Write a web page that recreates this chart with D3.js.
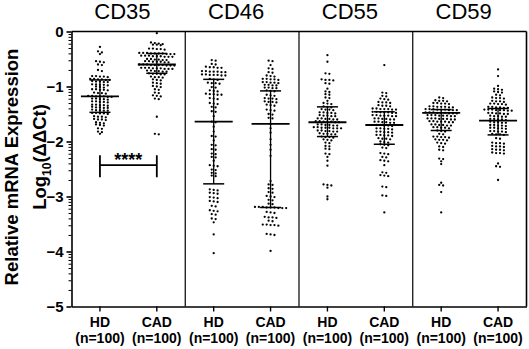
<!DOCTYPE html>
<html><head><meta charset="utf-8">
<script src="https://cdn.jsdelivr.net/npm/d3@7"></script>
<style>
body{margin:0;background:#fff}
svg{display:block}
text{font-family:"Liberation Sans",Arial,Helvetica,sans-serif;fill:#000}
</style>
</head><body>
<svg id="chart" width="529" height="349"></svg>
<script>
// ---------------- data ----------------
const genes = ["CD35", "CD46", "CD55", "CD59"];
const groups = ["HD", "CAD"];
const groupCounts = ["(n=100)", "(n=100)"];
const yTicks = [0, -1, -2, -3, -4, -5];
const yTitle1 = "Relative mRNA Expression";
const sigLabel = "****";
const sigValue = -2.43;

const hd35 = [-0.28,-0.36,-0.38,-0.41,-0.54,-0.55,-0.56,-0.60,-0.61,-0.70,-0.72,-0.81,-0.82,-0.83,-0.82,-0.81,-0.86,-0.87,-0.88,-0.87,-0.86,-0.88,-0.91,-0.92,-0.90,-0.91,-0.92,-0.96,-0.97,-0.98,-0.97,-0.96,-1.01,-1.02,-1.00,-1.06,-1.05,-1.07,-1.06,-1.05,-1.12,-1.11,-1.13,-1.12,-1.18,-1.17,-1.19,-1.18,-1.17,-1.19,-1.18,-1.23,-1.22,-1.24,-1.23,-1.22,-1.28,-1.27,-1.29,-1.28,-1.27,-1.34,-1.33,-1.35,-1.34,-1.33,-1.38,-1.39,-1.37,-1.38,-1.39,-1.43,-1.44,-1.42,-1.43,-1.44,-1.49,-1.48,-1.50,-1.49,-1.48,-1.55,-1.54,-1.56,-1.55,-1.60,-1.61,-1.59,-1.60,-1.66,-1.65,-1.67,-1.70,-1.71,-1.69,-1.76,-1.77,-1.82,-1.83,-1.86];
const cad35 = [-0.03,-0.20,-0.21,-0.22,-0.24,-0.25,-0.23,-0.24,-0.32,-0.31,-0.33,-0.32,-0.31,-0.40,-0.39,-0.41,-0.40,-0.39,-0.41,-0.40,-0.39,-0.41,-0.40,-0.45,-0.46,-0.44,-0.45,-0.46,-0.44,-0.45,-0.46,-0.44,-0.51,-0.50,-0.52,-0.51,-0.50,-0.52,-0.55,-0.56,-0.54,-0.55,-0.56,-0.54,-0.55,-0.61,-0.60,-0.62,-0.61,-0.60,-0.62,-0.61,-0.60,-0.62,-0.61,-0.67,-0.66,-0.68,-0.67,-0.66,-0.68,-0.67,-0.66,-0.68,-0.72,-0.71,-0.73,-0.72,-0.71,-0.73,-0.77,-0.78,-0.76,-0.77,-0.78,-0.83,-0.82,-0.84,-0.83,-0.88,-0.87,-0.89,-0.94,-0.93,-0.95,-1.00,-0.99,-1.01,-1.05,-1.06,-1.11,-1.12,-1.17,-1.16,-1.18,-1.23,-1.22,-1.55,-1.86,-1.87];
const hd46 = [-0.52,-0.53,-0.60,-0.59,-0.65,-0.66,-0.64,-0.65,-0.66,-0.73,-0.72,-0.74,-0.73,-0.72,-0.74,-0.73,-0.79,-0.80,-0.78,-0.79,-0.80,-0.78,-0.79,-0.87,-0.86,-0.88,-0.94,-0.95,-0.93,-0.94,-1.02,-1.01,-1.08,-1.09,-1.07,-1.14,-1.15,-1.13,-1.14,-1.15,-1.22,-1.21,-1.23,-1.31,-1.30,-1.32,-1.37,-1.38,-1.46,-1.45,-1.54,-1.64,-1.65,-1.73,-1.82,-1.90,-1.91,-1.98,-2.06,-2.07,-2.15,-2.14,-2.23,-2.22,-2.28,-2.29,-2.35,-2.44,-2.45,-2.43,-2.52,-2.51,-2.58,-2.57,-2.62,-2.63,-2.88,-2.87,-2.89,-2.94,-2.95,-2.93,-3.02,-3.01,-3.03,-3.09,-3.10,-3.08,-3.18,-3.17,-3.26,-3.25,-3.27,-3.32,-3.33,-3.41,-3.40,-3.47,-3.69,-4.03];
const cad46 = [-0.53,-0.54,-0.61,-0.67,-0.68,-0.75,-0.74,-0.81,-0.80,-0.82,-0.87,-0.86,-0.88,-0.87,-0.86,-0.93,-0.92,-0.94,-0.93,-0.92,-0.97,-0.98,-0.97,-0.98,-1.02,-1.03,-1.02,-1.03,-1.08,-1.09,-1.07,-1.16,-1.15,-1.17,-1.22,-1.21,-1.23,-1.22,-1.28,-1.29,-1.27,-1.28,-1.34,-1.35,-1.33,-1.43,-1.42,-1.44,-1.50,-1.51,-1.58,-1.57,-1.68,-1.76,-1.84,-1.96,-2.06,-2.15,-2.26,-2.72,-2.78,-2.79,-2.85,-2.86,-2.92,-2.93,-3.00,-2.99,-3.01,-3.06,-3.07,-3.14,-3.13,-3.20,-3.19,-3.21,-3.20,-3.19,-3.21,-3.20,-3.19,-3.21,-3.29,-3.28,-3.30,-3.38,-3.37,-3.39,-3.38,-3.44,-3.45,-3.52,-3.51,-3.53,-3.52,-3.51,-3.69,-3.68,-3.70,-3.99];
const hd55 = [-0.43,-0.55,-0.76,-0.77,-0.88,-0.87,-0.89,-0.88,-0.94,-0.95,-1.04,-1.09,-1.10,-1.15,-1.14,-1.20,-1.21,-1.26,-1.31,-1.30,-1.32,-1.37,-1.36,-1.38,-1.42,-1.43,-1.41,-1.42,-1.48,-1.47,-1.49,-1.48,-1.47,-1.53,-1.54,-1.52,-1.53,-1.54,-1.59,-1.58,-1.60,-1.59,-1.58,-1.60,-1.64,-1.65,-1.63,-1.64,-1.65,-1.63,-1.64,-1.70,-1.69,-1.71,-1.70,-1.69,-1.71,-1.75,-1.76,-1.74,-1.75,-1.76,-1.74,-1.75,-1.76,-1.81,-1.80,-1.82,-1.81,-1.80,-1.82,-1.86,-1.87,-1.85,-1.86,-1.87,-1.92,-1.91,-1.93,-1.92,-1.97,-1.98,-1.96,-2.03,-2.02,-2.08,-2.09,-2.14,-2.13,-2.22,-2.23,-2.28,-2.35,-2.44,-2.79,-2.78,-2.80,-2.84,-3.00,-3.05];
const cad55 = [-0.61,-1.11,-1.12,-1.17,-1.18,-1.23,-1.22,-1.24,-1.29,-1.28,-1.30,-1.29,-1.35,-1.34,-1.36,-1.35,-1.41,-1.40,-1.42,-1.41,-1.40,-1.42,-1.41,-1.47,-1.46,-1.48,-1.47,-1.46,-1.48,-1.47,-1.53,-1.52,-1.54,-1.53,-1.52,-1.54,-1.53,-1.59,-1.58,-1.60,-1.59,-1.58,-1.60,-1.65,-1.64,-1.66,-1.65,-1.64,-1.66,-1.71,-1.70,-1.72,-1.71,-1.70,-1.77,-1.76,-1.78,-1.77,-1.76,-1.83,-1.82,-1.84,-1.83,-1.82,-1.89,-1.88,-1.90,-1.89,-1.88,-1.95,-1.94,-1.96,-1.95,-2.01,-2.00,-2.02,-2.06,-2.07,-2.05,-2.12,-2.11,-2.22,-2.21,-2.23,-2.28,-2.29,-2.35,-2.34,-2.36,-2.43,-2.57,-2.56,-2.62,-2.61,-2.63,-2.82,-2.83,-2.99,-2.98,-3.29];
const hd59 = [-1.20,-1.21,-1.26,-1.25,-1.27,-1.26,-1.31,-1.30,-1.32,-1.31,-1.30,-1.37,-1.36,-1.38,-1.37,-1.36,-1.38,-1.37,-1.42,-1.41,-1.43,-1.42,-1.41,-1.43,-1.42,-1.41,-1.43,-1.48,-1.47,-1.49,-1.48,-1.47,-1.49,-1.48,-1.47,-1.49,-1.53,-1.52,-1.54,-1.53,-1.52,-1.54,-1.53,-1.52,-1.59,-1.58,-1.60,-1.59,-1.58,-1.60,-1.59,-1.58,-1.64,-1.63,-1.65,-1.64,-1.63,-1.65,-1.64,-1.70,-1.69,-1.71,-1.70,-1.69,-1.71,-1.75,-1.74,-1.76,-1.75,-1.74,-1.81,-1.80,-1.82,-1.86,-1.87,-1.92,-1.91,-1.93,-1.92,-1.91,-1.97,-1.96,-1.98,-1.97,-2.03,-2.02,-2.04,-2.09,-2.10,-2.15,-2.16,-2.31,-2.32,-2.36,-2.41,-2.75,-2.79,-2.80,-2.92,-3.29];
const cad59 = [-0.69,-0.81,-0.99,-1.05,-1.04,-1.06,-1.10,-1.11,-1.09,-1.16,-1.15,-1.21,-1.20,-1.22,-1.21,-1.27,-1.26,-1.28,-1.27,-1.32,-1.31,-1.33,-1.32,-1.31,-1.38,-1.37,-1.39,-1.38,-1.37,-1.39,-1.43,-1.42,-1.44,-1.43,-1.42,-1.44,-1.43,-1.42,-1.49,-1.48,-1.50,-1.49,-1.48,-1.50,-1.54,-1.55,-1.53,-1.54,-1.55,-1.60,-1.59,-1.61,-1.60,-1.59,-1.65,-1.66,-1.64,-1.65,-1.66,-1.71,-1.70,-1.72,-1.71,-1.70,-1.76,-1.75,-1.77,-1.76,-1.75,-1.82,-1.81,-1.83,-1.82,-1.81,-1.87,-1.88,-1.86,-1.87,-1.95,-1.94,-2.03,-2.02,-2.04,-2.03,-2.09,-2.08,-2.10,-2.09,-2.15,-2.14,-2.16,-2.15,-2.21,-2.20,-2.22,-2.21,-2.40,-2.45,-2.46,-2.70];

const seriesValues = [hd35, cad35, hd46, cad46, hd55, cad55, hd59, cad59];
// summary line (centre) and error-bar ends
const centerVals = [-1.18, -0.60, -1.64, -1.68, -1.65, -1.70, -1.48, -1.62];
const upperVals  = [-0.88, -0.40, -0.87, -1.08, -1.37, -1.46, -1.42, -1.40];
const lowerVals  = [-1.47, -0.76, -2.77, -3.20, -1.91, -2.05, -1.80, -1.88];

// ---------------- layout ----------------
const svg = d3.select("#chart");
const pLeft = 71.5, pRight = 526.5, pTop = 31.5, pBottom = 306.5;
const keys = [];
genes.forEach(g => groups.forEach(s => keys.push(g + "|" + s)));

const x = d3.scaleBand().domain(keys).range([pLeft, pRight]).padding(0);
const y = d3.scaleLinear().domain([-5, 0]).range([pBottom, pTop]);
const bw = x.bandwidth();
const cx = k => x(k) + bw / 2;

// minor (log-style) ticks
const minorTicks = [];
yTicks.slice(0, -1).forEach(t => { for (let m = 2; m <= 9; m++) minorTicks.push(t + Math.log10(m / 10)); });

const gMinor = svg.append("g").attr("transform", `translate(${pLeft},0)`)
  .call(d3.axisLeft(y).tickValues(minorTicks).tickSize(3).tickSizeOuter(0).tickFormat(""));
gMinor.select(".domain").remove();
gMinor.selectAll("line").attr("stroke", "#000").attr("stroke-width", 1);

const gY = svg.append("g").attr("transform", `translate(${pLeft},0)`)
  .call(d3.axisLeft(y).tickValues(yTicks).tickSize(5).tickSizeOuter(0).tickPadding(3).tickFormat(d3.format("d")));
gY.select(".domain").attr("stroke", "#000").attr("stroke-width", 1.6);
gY.selectAll(".tick line").attr("stroke", "#000").attr("stroke-width", 1.6);
gY.selectAll(".tick text").style("font-size", "15px").style("font-weight", "bold")
  .style("font-family", '"Liberation Sans",Arial,sans-serif').attr("fill", "#000");

const gX = svg.append("g").attr("transform", `translate(0,${pBottom})`)
  .call(d3.axisBottom(x).tickSize(5).tickSizeOuter(0).tickFormat(""));
gX.select(".domain").attr("stroke", "#000").attr("stroke-width", 1.6);
gX.selectAll(".tick line").attr("stroke", "#000").attr("stroke-width", 1.4);

// frame: top, right and panel separators
svg.append("line").attr("x1", pLeft).attr("x2", pRight).attr("y1", pTop).attr("y2", pTop)
  .attr("stroke", "#000").attr("stroke-width", 1.6);
svg.append("line").attr("x1", pRight).attr("x2", pRight).attr("y1", pTop).attr("y2", pBottom)
  .attr("stroke", "#000").attr("stroke-width", 1.6);
genes.slice(1).forEach(g => {
  const xs = x(g + "|" + groups[0]);
  svg.append("line").attr("x1", xs).attr("x2", xs).attr("y1", pTop).attr("y2", pBottom)
    .attr("stroke", "#000").attr("stroke-width", 1.2);
});

// panel titles
genes.forEach(g => {
  const mid = (x(g + "|" + groups[0]) + x(g + "|" + groups[1]) + bw) / 2 - 6;
  svg.append("text").attr("x", mid).attr("y", 19).attr("text-anchor", "middle")
    .style("font-size", "22px").text(g);
});

// x labels
keys.forEach((k, i) => {
  const gi = i % 2;
  svg.append("text").attr("x", cx(k)).attr("y", 326.5).attr("text-anchor", "middle")
    .style("font-size", "14px").style("font-weight", "bold").text(groups[gi]);
  svg.append("text").attr("x", cx(k)).attr("y", 342.5).attr("text-anchor", "middle")
    .style("font-size", "14px").style("font-weight", "bold").text(groupCounts[gi]);
});

// y title
svg.append("text").attr("transform", "translate(18,167) rotate(-90)").attr("text-anchor", "middle")
  .style("font-size", "18.5px").style("font-weight", "bold").text(yTitle1);
const t2 = svg.append("text").attr("transform", "translate(46,157) rotate(-90)").attr("text-anchor", "middle")
  .style("font-size", "18.5px").style("font-weight", "bold");
t2.append("tspan").text("Log");
t2.append("tspan").attr("dy", 5).style("font-size", "12px").text("10");
t2.append("tspan").attr("dy", -5).text("(ΔΔCt)");

// beeswarm (row-based like Prism)
const rowH = 1.8, dx = 3.9, r = 1.15;
function swarm(vals, c) {
  const pts = vals.map(v => ({ v, py: y(v) })).sort((a, b) => a.py - b.py);
  const rows = [];
  let cur = null;
  pts.forEach(p => {
    if (!cur || p.py - cur.start > rowH) { cur = { start: p.py, pts: [] }; rows.push(cur); }
    cur.pts.push(p);
  });
  rows.forEach(rw => {
    const n = rw.pts.length;
    rw.pts.forEach((p, i) => { p.px = c + (i - (n - 1) / 2) * dx; });
  });
  return pts;
}

keys.forEach((k, i) => {
  const c = cx(k);
  const pts = swarm(seriesValues[i], c);
  svg.append("g").selectAll("circle").data(pts).join("circle")
    .attr("cx", d => d.px).attr("cy", d => d.py).attr("r", r).attr("fill", "#000");
  const g = svg.append("g").attr("stroke", "#000");
  g.append("line").attr("x1", c).attr("x2", c).attr("y1", y(upperVals[i])).attr("y2", y(lowerVals[i])).attr("stroke-width", 1.3);
  g.append("line").attr("x1", c - 19).attr("x2", c + 19).attr("y1", y(centerVals[i])).attr("y2", y(centerVals[i])).attr("stroke-width", 1.8);
  [upperVals[i], lowerVals[i]].forEach(v => {
    g.append("line").attr("x1", c - 10.5).attr("x2", c + 10.5).attr("y1", y(v)).attr("y2", y(v)).attr("stroke-width", 1.5);
  });
});

// significance bracket
const xa = cx(genes[0] + "|" + groups[0]), xb = cx(genes[0] + "|" + groups[1]);
const sg = svg.append("g").attr("stroke", "#000").attr("stroke-width", 1.8);
sg.append("line").attr("x1", xa).attr("x2", xb).attr("y1", y(sigValue)).attr("y2", y(sigValue));
[xa, xb].forEach(xx => sg.append("line").attr("x1", xx).attr("x2", xx)
  .attr("y1", y(sigValue + 0.18)).attr("y2", y(sigValue - 0.22)));
svg.append("text").attr("x", (xa + xb) / 2).attr("y", y(sigValue) + 1).attr("text-anchor", "middle")
  .style("font-size", "18px").style("font-weight", "bold").text(sigLabel);
</script>
</body></html>
